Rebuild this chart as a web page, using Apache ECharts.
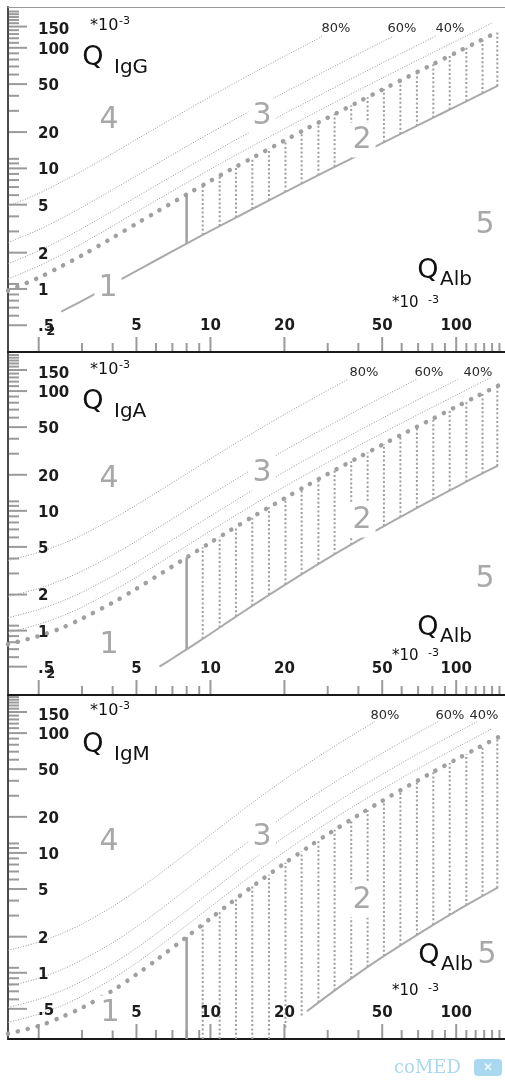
<!DOCTYPE html>
<html><head><meta charset="utf-8">
<script src="https://cdn.jsdelivr.net/npm/echarts@6/dist/echarts.min.js"></script>
<style>html,body{margin:0;padding:0;background:#fff;}#c{width:505px;height:1080px;}</style>
</head><body><div id="c"></div>
<script>
// ---------------- data (all values ×10^-3) ----------------
const xTicksMajor = [2, 5, 10, 20, 50, 100];
const xTicksMinor = [3, 4, 6, 7, 8, 9, 30, 40, 60, 70, 80, 90, 110, 120, 130, 140, 150];
const xTickLabels = ['2', '5', '10', '20', '50', '100'];
const yTicksMajor = [0.5, 1, 2, 5, 10, 20, 50, 100, 150];
const yTicksMinor = [0.6, 0.7, 0.8, 0.9, 1.1, 3, 4, 6, 7, 8, 9, 11, 12, 30, 40, 60, 70, 80, 90, 110, 120, 130, 140, 160, 170, 180, 190, 200];
const yTickLabels = ['.5', '1', '2', '5', '10', '20', '50', '100', '150'];
const fractionLabels = ['80%', '60%', '40%'];
const regionLabels = ['4', '3', '2', '1', '5'];

const qAlb = [1.5, 2, 2.5, 3, 4, 5, 6, 8, 10, 12, 15, 20, 25, 30, 40, 50, 60, 80, 100, 120, 148];
const colQAlb = [8, 9.3, 10.9, 12.7, 14.8, 17.3, 20.2, 23.5, 27.5, 32, 37.4, 43.6, 50.8, 59.3, 69.2, 80.7, 94.1, 110, 128, 147];

// IgG
const upperG = [0.97, 1.24, 1.56, 1.90, 2.66, 3.48, 4.33, 6.08, 7.88, 9.69, 12.4, 17.0, 21.7, 26.3, 35.6, 44.9, 54.2, 72.7, 91.3, 110, 136];
const lowerG = [[2.47, 0.648], [3, 0.795], [4, 1.1], [5, 1.415], [6, 1.73], [8, 2.38], [10, 3.03], [15, 4.67], [20, 6.32], [30, 9.61], [50, 16.2], [80, 26.1], [100, 32.7], [148, 48.5]];
const g80 = [[1.5, 4.86], [2, 6.2], [2.5, 7.8], [3, 9.5], [4, 13.3], [5, 17.4], [6, 21.6], [8, 30.4], [10, 39.4], [12, 48.5], [15, 62.2], [20, 85.2], [25, 108], [28.6, 125]];
const g60 = [[1.5, 2.43], [2, 3.1], [2.5, 3.89], [3, 4.76], [4, 6.66], [5, 8.7], [6, 10.8], [8, 15.2], [10, 19.7], [12, 24.2], [15, 31.1], [20, 42.6], [30, 65.7], [40, 88.9], [50, 112], [55.5, 125]];
const g40 = [[1.5, 1.62], [2, 2.07], [2.5, 2.59], [3, 3.17], [4, 4.44], [5, 5.8], [6, 7.21], [8, 10.1], [10, 13.1], [12, 16.2], [15, 20.7], [20, 28.4], [30, 43.8], [40, 59.3], [50, 74.8], [60, 90.3], [80, 121], [82.5, 125]];
const g20 = [[1.5, 1.21], [2, 1.55], [2.5, 1.94], [3, 2.38], [4, 3.33], [5, 4.35], [6, 5.41], [8, 7.6], [10, 9.84], [12, 12.1], [15, 15.5], [20, 21.3], [30, 32.9], [40, 44.5], [50, 56.1], [60, 67.7], [80, 90.9], [100, 114], [120, 137], [140, 161]];
const colTopG = [6.08, 7.24, 8.69, 10.3, 12.3, 14.6, 17.2, 20.3, 24.0, 28.2, 33.2, 38.9, 45.6, 53.5, 62.7, 73.4, 85.8, 101, 117, 135];
const colBotG = [2.38, 2.80, 3.33, 3.92, 4.61, 5.43, 6.38, 7.47, 8.79, 10.3, 12.1, 14.1, 16.5, 19.3, 22.5, 26.3, 30.8, 36.0, 41.9, 48.2];

// IgA
const upperA = [0.77, 0.90, 1.06, 1.26, 1.71, 2.24, 2.82, 4.08, 5.44, 6.85, 9.03, 12.7, 16.5, 20.3, 27.9, 35.6, 43.3, 58.6, 74.0, 89.4, 111];
const lowerA = [[6.2, 0.50], [7, 0.585], [8, 0.697], [10, 0.942], [12, 1.21], [15, 1.64], [20, 2.40], [30, 4.01], [40, 5.66], [50, 7.33], [60, 9.0], [80, 12.4], [100, 15.8], [120, 19.2], [148, 23.9]];
const a80 = [[1.5, 3.85], [2, 4.5], [2.5, 5.32], [3, 6.28], [4, 8.55], [5, 11.2], [6, 14.1], [8, 20.4], [10, 27.2], [12, 34.3], [15, 45.2], [20, 63.7], [25, 82.5], [30, 101.5], [36.2, 125]];
const a60 = [[1.5, 1.92], [2, 2.25], [2.5, 2.66], [3, 3.14], [4, 4.27], [5, 5.59], [6, 7.04], [8, 10.2], [10, 13.6], [12, 17.1], [15, 22.6], [20, 31.9], [25, 41.3], [30, 50.7], [40, 69.8], [50, 89], [60, 108], [68.8, 125]];
const a40 = [[1.5, 1.28], [2, 1.5], [2.5, 1.77], [3, 2.09], [4, 2.85], [5, 3.73], [6, 4.69], [8, 6.8], [10, 9.07], [12, 11.4], [15, 15.1], [20, 21.2], [25, 27.5], [30, 33.8], [40, 46.5], [50, 59.3], [60, 72.1], [80, 97.7], [101.3, 125]];
const a20 = [[1.5, 0.96], [2, 1.13], [2.5, 1.33], [3, 1.57], [4, 2.14], [5, 2.79], [6, 3.52], [8, 5.1], [10, 6.8], [12, 8.56], [15, 11.3], [20, 15.9], [25, 20.6], [30, 25.4], [40, 34.9], [50, 44.5], [60, 54.1], [80, 73.3], [100, 92.5], [120, 112], [140, 131]];
const colTopA = [4.08, 4.96, 6.07, 7.35, 8.88, 10.7, 12.9, 15.4, 18.4, 21.8, 25.9, 30.7, 36.2, 42.7, 50.3, 59.2, 69.5, 81.7, 95.5, 110];
const colBotA = [0.697, 0.854, 1.06, 1.31, 1.61, 1.99, 2.43, 2.96, 3.60, 4.33, 5.22, 6.26, 7.46, 8.89, 10.6, 12.5, 14.8, 17.5, 20.5, 23.7];

// IgM
const upperM = [0.31, 0.36, 0.43, 0.51, 0.71, 0.97, 1.27, 1.99, 2.84, 3.79, 5.35, 8.18, 11.2, 14.3, 20.7, 27.2, 33.8, 47.0, 60.3, 73.6, 92.3];
const lowerM = [[24.7, 0.477], [30, 0.645], [40, 0.988], [50, 1.35], [60, 1.72], [80, 2.49], [100, 3.27], [120, 4.05], [148, 5.16]];
const m80 = [[1.5, 1.54], [2, 1.8], [2.5, 2.14], [3, 2.55], [4, 3.57], [5, 4.84], [6, 6.34], [8, 9.94], [10, 14.2], [12, 18.9], [15, 26.7], [20, 40.9], [25, 55.9], [30, 71.5], [40, 103], [46.7, 125]];
const m60 = [[1.5, 0.77], [2, 0.9], [2.5, 1.07], [3, 1.28], [4, 1.78], [5, 2.42], [6, 3.17], [8, 4.97], [10, 7.1], [12, 9.47], [15, 13.4], [20, 20.4], [25, 28], [30, 35.7], [40, 51.7], [50, 68], [60, 84.4], [84.5, 125]];
const m40 = [[1.5, 0.513], [2, 0.6], [2.5, 0.713], [3, 0.85], [4, 1.19], [5, 1.61], [6, 2.11], [8, 3.31], [10, 4.73], [12, 6.31], [15, 8.91], [20, 13.6], [25, 18.6], [30, 23.8], [40, 34.5], [50, 45.3], [60, 56.3], [80, 78.3], [100, 100.5], [122, 125]];
const m20 = [[1.5, 0.385], [2, 0.451], [2.5, 0.535], [3, 0.638], [4, 0.891], [5, 1.21], [6, 1.585], [8, 2.49], [10, 3.55], [12, 4.73], [15, 6.68], [20, 10.2], [25, 14], [30, 17.9], [40, 25.9], [50, 34], [60, 42.2], [80, 58.8], [100, 75.4], [120, 92], [140, 109]];
const colTopM = [1.99, 2.53, 3.25, 4.14, 5.24, 6.62, 8.30, 10.3, 12.7, 15.6, 19.0, 23.0, 27.7, 33.3, 39.8, 47.5, 56.4, 67.0, 79.0, 91.7];
const colBotM = [0.28, 0.28, 0.28, 0.28, 0.28, 0.28, 0.35, 0.44, 0.565, 0.71, 0.90, 1.12, 1.38, 1.70, 2.07, 2.52, 3.04, 3.66, 4.37, 5.12];

// ---------------- chart ----------------
const FONT = '"DejaVu Sans", Verdana, sans-serif';
const X_MIN = 1.5, X_MAX = 158;
const panels = [
  {sub: 'IgG', top: 7, height: 345, yMin: 0.3, yMax: 218, upper: upperG, lower: lowerG, lines: [g80, g60, g40, g20], colTop: colTopG, colBot: colBotG, x2: true},
  {sub: 'IgA', top: 352, height: 343, yMin: 0.29, yMax: 212, upper: upperA, lower: lowerA, lines: [a80, a60, a40, a20], colTop: colTopA, colBot: colBotA, x2: true},
  {sub: 'IgM', top: 695, height: 344, yMin: 0.28, yMax: 208, upper: upperM, lower: lowerM, lines: [m80, m60, m40, m20], colTop: colTopM, colBot: colBotM, x2: false}
];
// annotation layout (pixels)
const layout = [
  {sci: [90, 26], Q: [93, 58], qa: [428, 271], sci2: [392, 303], pct: [[336, 29], [402, 29], [450, 29]],
   reg: [[109, 120], [262, 116], [362, 140], [108, 288], [485, 225]]},
  {sci: [90, 370], Q: [93, 402], qa: [428, 628], sci2: [392, 656], pct: [[364, 373], [429, 373], [478, 373]],
   reg: [[109, 479], [262, 473], [362, 520], [109, 645], [485, 579]]},
  {sci: [90, 711], Q: [93, 745], qa: [429, 956], sci2: [392, 991], pct: [[385, 716], [450, 716], [484, 716]],
   reg: [[109, 842], [262, 837], [362, 900], [110, 1013], [487, 955]]}
];

const grid = [], xAxis = [], yAxis = [], series = [];
const hidden = {axisTick: {show: false}, axisLabel: {show: false}, splitLine: {show: false}};
panels.forEach((p, i) => {
  grid.push({left: 8, width: 497, top: p.top, height: p.height});
  xAxis.push(Object.assign({type: 'log', logBase: 10, gridIndex: i, min: X_MIN, max: X_MAX,
    axisLine: {show: true, lineStyle: {color: '#1a1a1a', width: 2}}}, hidden));
  yAxis.push(Object.assign({type: 'log', logBase: 10, gridIndex: i, min: p.yMin, max: p.yMax,
    axisLine: {show: true, lineStyle: {color: '#4a4a4a', width: 2}}}, hidden));
  const c = {xAxisIndex: i, yAxisIndex: i, silent: true, animation: false};

  p.lines.forEach(d => series.push(Object.assign({type: 'line', data: d, symbol: 'none', smooth: 0.3,
    lineStyle: {color: '#9a9a9a', width: 1, type: [1, 1.6]}, z: 2}, c)));
  series.push(Object.assign({type: 'line', data: qAlb.map((x, k) => [x, p.upper[k]]), symbol: 'none', smooth: 0.3,
    lineStyle: {color: '#a0a0a0', width: 4.5, type: [0.1, 10], cap: 'round'}, z: 4}, c));
  series.push(Object.assign({type: 'line', data: p.lower, symbol: 'none', smooth: 0.3,
    lineStyle: {color: '#aaaaaa', width: 2}, z: 3}, c));
  series.push(Object.assign({type: 'custom', data: colQAlb.map((x, k) => [x, p.colBot[k], p.colTop[k], k === 0 ? 1 : 0]),
    encode: {x: 0, y: [1, 2]}, z: 3,
    renderItem: (params, api) => {
      const x = api.value(0);
      const a = api.coord([x, api.value(1)]);
      const b = api.coord([x, api.value(2)]);
      const solid = api.value(3) === 1;
      return {type: 'line', shape: {x1: a[0], y1: a[1], x2: b[0], y2: b[1]},
        style: {stroke: solid ? '#a0a0a0' : '#9d9d9d', lineWidth: solid ? 2.5 : 2, lineDash: solid ? null : [2, 2.3]}};
    }}, c));
  // x ticks
  series.push(Object.assign({type: 'custom', encode: {x: 0, y: 1}, z: 5,
    data: xTicksMajor.map(v => [v, p.yMin, 1]).concat(xTicksMinor.map(v => [v, p.yMin, 0])),
    renderItem: (params, api) => {
      const cs = params.coordSys;
      const px = api.coord([api.value(0), p.yMin])[0];
      const by = cs.y + cs.height - 1;
      const len = api.value(2) ? 14 : 8;
      return {type: 'line', shape: {x1: px, y1: by, x2: px, y2: by - len}, style: {stroke: '#9a9a9a', lineWidth: 2}};
    }}, c));
  // y ticks
  series.push(Object.assign({type: 'custom', encode: {x: 0, y: 1}, z: 5,
    data: yTicksMajor.map(v => [X_MIN, v, 1]).concat(yTicksMinor.map(v => [X_MIN, v, 0])),
    renderItem: (params, api) => {
      const cs = params.coordSys;
      const py = api.coord([X_MIN, api.value(1)])[1];
      const len = api.value(2) ? 18 : 10;
      return {type: 'line', shape: {x1: cs.x + 1, y1: py, x2: cs.x + 1 + len, y2: py}, style: {stroke: '#9a9a9a', lineWidth: 2}};
    }}, c));
  // x labels
  series.push(Object.assign({type: 'custom', encode: {x: 0, y: 1}, z: 6,
    data: xTicksMajor.map((v, k) => [v, p.yMin, k]).filter(d => p.x2 || xTickLabels[d[2]] !== '2'),
    renderItem: (params, api) => {
      const cs = params.coordSys;
      const k = api.value(2);
      const lab = xTickLabels[k];
      const px = api.coord([api.value(0), p.yMin])[0];
      const by = cs.y + cs.height;
      const sp = lab === '2';
      return {type: 'text', x: px + (sp ? 12 : 0), y: by - 26 + (sp ? 6 : 0),
        style: {text: lab, font: `bold ${sp ? 13 : 15}px ${FONT}`, fill: '#1c1c1c', align: 'center', verticalAlign: 'middle', textAlign: 'center', textVerticalAlign: 'middle'}};
    }}, c));
  // y labels
  series.push(Object.assign({type: 'custom', encode: {x: 0, y: 1}, z: 6,
    data: yTicksMajor.map((v, k) => [X_MIN, v, k]),
    renderItem: (params, api) => {
      const cs = params.coordSys;
      const k = api.value(2);
      const lab = yTickLabels[k];
      const py = api.coord([X_MIN, api.value(1)])[1];
      return {type: 'text', x: cs.x + 30, y: py + (lab === '150' ? 4 : 2),
        style: {text: lab, font: `bold 15px ${FONT}`, fill: '#1c1c1c', align: 'left', verticalAlign: 'middle', textAlign: 'left', textVerticalAlign: 'middle'}};
    }}, c));
});
// top border of first panel
xAxis.push(Object.assign({type: 'log', logBase: 10, gridIndex: 0, min: X_MIN, max: X_MAX, position: 'top',
  axisLine: {show: true, lineStyle: {color: '#999', width: 1}}}, hidden));

// ---------------- annotations ----------------
const graphic = [];
function txt(text, x, y, size, o) {
  o = o || {};
  const style = {text, font: `${o.weight || 'normal'} ${size}px ${FONT}`, fill: o.fill || '#111',
    align: o.align || 'left', verticalAlign: 'middle'};
  if (o.bg) { style.backgroundColor = '#fff'; style.padding = o.pad || [1, 4, 4, 4]; }
  graphic.push({type: 'text', x, y, z: 100, silent: true, style});
}
layout.forEach((L, i) => {
  const p = panels[i];
  txt('*10', L.sci[0], L.sci[1], 16);
  txt('-3', L.sci[0] + 29, L.sci[1] - 5, 11);
  txt('Q', L.Q[0], L.Q[1], 27, {align: 'center'});
  txt(p.sub, L.Q[0] + 21, L.Q[1] + 10, 20);
  L.pct.forEach((pt, k) => txt(fractionLabels[k], pt[0], pt[1], 13, {align: 'center', fill: '#2a2a2a'}));
  L.reg.forEach((pt, k) => { if (k !== 4) txt(regionLabels[k], pt[0], pt[1], 30, {align: 'center', fill: '#a8a8a8', bg: true}); });
  txt('Q', L.qa[0], L.qa[1], 27, {align: 'center'});
  txt('Alb', L.qa[0] + 12, L.qa[1] + 9, 20);
  txt(regionLabels[4], L.reg[4][0], L.reg[4][1], 30, {align: 'center', fill: '#a8a8a8', bg: i === 2, pad: [0, 1, 0, 1]});
  txt('*10', L.sci2[0], L.sci2[1], 15);
  txt('-3', L.sci2[0] + 36, L.sci2[1] - 3, 11);
});
// logo
graphic.push({type: 'text', x: 394, y: 1068, z: 100, silent: true,
  style: {text: 'coMED', font: `18px "DejaVu Serif", serif`, fill: '#a9d9f1', align: 'left', verticalAlign: 'middle'}});
graphic.push({type: 'rect', x: 474, y: 1059, z: 100, silent: true, shape: {width: 28, height: 17, r: 4}, style: {fill: '#a9d9f1'}});
graphic.push({type: 'text', x: 488, y: 1068, z: 101, silent: true,
  style: {text: '✕', font: `bold 12px ${FONT}`, fill: '#fff', align: 'center', verticalAlign: 'middle'}});

const chart = echarts.init(document.getElementById('c'), null, {renderer: 'canvas'});
chart.setOption({animation: false, backgroundColor: '#fff', grid, xAxis, yAxis, series, graphic});
</script>
</body></html>
